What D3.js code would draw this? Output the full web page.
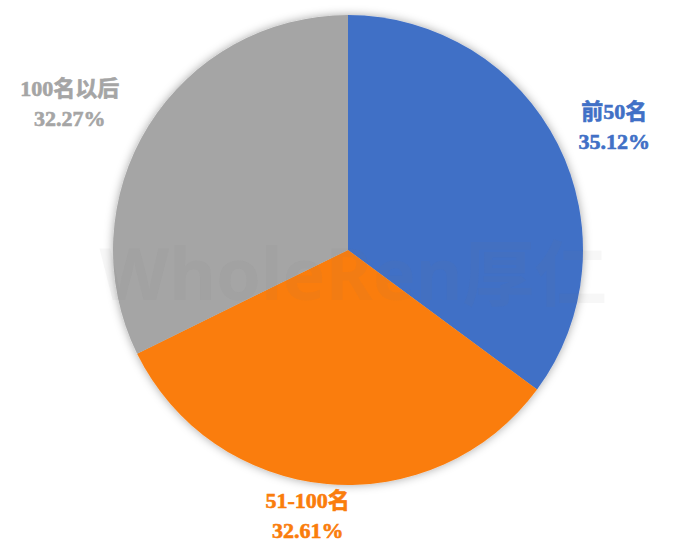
<!DOCTYPE html>
<html>
<head>
  <meta charset="utf-8">
  <title>D3 pie</title>
  <script src="https://d3js.org/d3.v7.min.js"></script>
  <style>
    body { margin: 0; background: #fff; }
  </style>
</head>
<body>
<script>
  // data
  var categorias = ["前50名", "51-100名", "100名以后"];
  var valores = [35.12, 32.61, 32.27];
  var colores = ["#4170C6", "#FA7D0C", "#A5A5A5"];
  var etiquetasPct = ["35.12%", "32.61%", "32.27%"];

  var w = 686, h = 545;
  var cx = 348, cy = 250, r = 235;

  var svg = d3.select("body").append("svg").attr("width", w).attr("height", h);

  var defs = svg.append("defs");
  var sombra = defs.append("filter").attr("id", "sombra")
    .attr("x", "-20%").attr("y", "-20%").attr("width", "140%").attr("height", "140%");
  sombra.append("feDropShadow")
    .attr("dx", 0).attr("dy", 0).attr("stdDeviation", 5)
    .attr("flood-color", "#000").attr("flood-opacity", 0.35);

  var datos = categorias.map(function(c, i) {
    return { nombre: c, valor: valores[i], color: colores[i], pct: etiquetasPct[i] };
  });

  var pie = d3.pie().sort(null).value(function(d) { return d.valor; });
  var arco = d3.arc().innerRadius(0).outerRadius(r);

  var g = svg.append("g").attr("transform", "translate(" + cx + "," + cy + ")");

  g.append("g").attr("filter", "url(#sombra)")
    .selectAll("path").data(pie(datos)).enter().append("path")
    .attr("d", arco)
    .attr("fill", function(d) { return d.data.color; });

  // watermark
  svg.append("text")
    .attr("x", w / 2 + 10).attr("y", 300)
    .attr("text-anchor", "middle")
    .attr("font-family", "'Noto Sans', 'Noto Sans CJK SC', sans-serif")
    .attr("font-weight", "bold")
    .attr("font-size", "72px")
    .attr("fill", "#777")
    .attr("fill-opacity", 0.06)
    .text("WholeRen厚仁");

  // labels: radius factor and small nudges per slice
  var radios = [1.26, 1.16, 1.33];
  var ajusteX = [2, -16, -13];
  var ajusteY = [6, -10, 15];
  var etiquetas = g.selectAll("text.lbl").data(pie(datos)).enter().append("text")
    .attr("class", "lbl")
    .attr("text-anchor", "middle")
    .attr("font-family", "'Liberation Serif', 'Noto Sans CJK SC', serif")
    .attr("font-weight", "bold")
    .attr("font-size", "22px")
    .attr("fill", function(d) { return d.data.color; })
    .attr("stroke", function(d) { return d.data.color; })
    .attr("stroke-width", 0.6)
    .attr("transform", function(d, i) {
      var a = (d.startAngle + d.endAngle) / 2;
      var rr = r * radios[i];
      return "translate(" + (Math.sin(a) * rr + ajusteX[i]) + "," + (-Math.cos(a) * rr + ajusteY[i]) + ")";
    });

  etiquetas.append("tspan").attr("x", 0).attr("y", -4).text(function(d) { return d.data.nombre; });
  etiquetas.append("tspan").attr("x", 0).attr("y", 26).text(function(d) { return d.data.pct; });
</script>
</body>
</html>
